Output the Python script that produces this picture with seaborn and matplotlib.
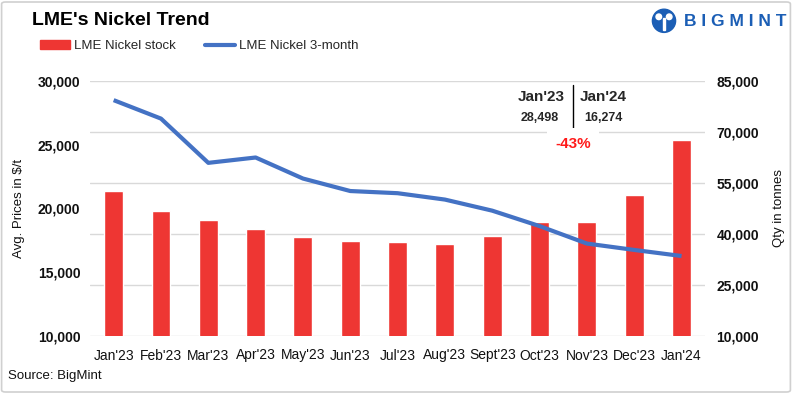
import numpy as np
import pandas as pd
import matplotlib
matplotlib.use("Agg")
import matplotlib.pyplot as plt
from matplotlib.patches import FancyBboxPatch, Ellipse, Rectangle
from matplotlib.lines import Line2D
from matplotlib.ticker import FuncFormatter, FixedLocator, FixedFormatter
import seaborn as sns

# ---- data ----
months = ["Jan'23", "Feb'23", "Mar'23", "Apr'23", "May'23", "Jun'23", "Jul'23",
          "Aug'23", "Sept'23", "Oct'23", "Nov'23", "Dec'23", "Jan'24"]
stock_qty = [52600, 46800, 44100, 41500, 39100, 37900, 37600,
             37100, 39400, 43500, 43500, 51500, 67600]
price_3m = [28498, 27050, 23580, 24000, 22350, 21370, 21200,
            20700, 19830, 18620, 17250, 16750, 16274]
left_ticks = [10000, 15000, 20000, 25000, 30000]
right_ticks = [10000, 25000, 40000, 55000, 70000, 85000]

sns.set_theme(style="white")
plt.rcParams['font.family'] = ['Liberation Sans', 'DejaVu Sans']

bar_color = "#EE3633"
line_color = "#4472C4"
grid_color = "#D9D9D9"

df = pd.DataFrame({"month": months, "qty": stock_qty, "price": price_3m,
                   "pos": np.arange(len(months))})

fig = plt.figure(figsize=(8, 4), dpi=100)
ax = fig.add_axes([0.1125, 0.16, 0.769, 0.6375])
ax2 = ax.twinx()

# bars on right (qty) axis
sns.barplot(data=df, x="month", y="qty", ax=ax2, color=bar_color, width=0.4,
            saturation=1, order=months)
ax2.set_ylim(10000, 85000)
ax2.set_yticks(right_ticks)
ax2.yaxis.grid(True, color=grid_color, linewidth=1)
ax2.set_axisbelow(True)

# line on left (price) axis, drawn above bars
sns.lineplot(data=df, x="pos", y="price", ax=ax, color=line_color, linewidth=3,
             solid_capstyle="butt")
ax.set_zorder(ax2.get_zorder() + 1)
ax.patch.set_visible(False)
ax.set_ylim(10000, 30000)
ax.set_yticks(left_ticks)

fmt = FuncFormatter(lambda v, p: f"{int(v):,}")
ax.yaxis.set_major_formatter(fmt)
ax2.yaxis.set_major_formatter(fmt)

for a in (ax, ax2):
    for s in a.spines.values():
        s.set_visible(False)
    a.tick_params(length=0)
    a.set_xlabel("")

ax2.tick_params(axis="x", labelbottom=False, bottom=False)

# x ticks (shared axis) set last
ax.set_xlim(-0.5, len(months) - 0.5)
ax.xaxis.set_major_locator(FixedLocator(np.arange(len(months))))
ax.xaxis.set_major_formatter(FixedFormatter(months))
ax.tick_params(axis="x", labelbottom=True, pad=9)

ax.tick_params(axis="y", pad=7)
ax2.tick_params(axis="y", pad=8)
for lab in ax.get_yticklabels() + ax2.get_yticklabels():
    lab.set_fontweight("bold")
    lab.set_fontsize(10)
    lab.set_color("#111111")
narrow = ['Liberation Sans Narrow', 'Liberation Sans', 'DejaVu Sans']
for lab in ax.get_xticklabels():
    lab.set_family(narrow)
    lab.set_fontsize(10)
    lab.set_color("#111111")

ax.set_ylabel("Avg. Prices in $/t", fontsize=9.5, color="#111111", labelpad=9)
ax2.set_ylabel("Qty in tonnes", fontsize=9.5, color="#111111", labelpad=10)

# title
fig.text(0.04, 0.948, "LME's Nickel Trend", fontsize=14, fontweight="bold",
         ha="left", va="center", color="#000000")

# legend
handles = [Rectangle((0, 0), 1, 1, color=bar_color),
           Line2D([0], [0], color=line_color, linewidth=3)]
fig.legend(handles, ["LME Nickel stock", "LME Nickel 3-month"], loc="center left",
           bbox_to_anchor=(0.05, 0.885), ncol=2, frameon=False, fontsize=9.5,
           handlelength=2.3, handleheight=0.6, columnspacing=2.2, handletextpad=0.3,
           borderaxespad=0, borderpad=0)

# annotation block
first, last = price_3m[0], price_3m[-1]
chg = (last - first) / first * 100
fig.text(0.677, 0.758, months[0], fontsize=11, fontweight="bold", ha="center", va="center")
fig.text(0.7545, 0.758, months[-1], fontsize=11, fontweight="bold", ha="center", va="center")
fig.text(0.674, 0.705, f"{first:,}", fontsize=9, fontweight="bold", ha="center", va="center")
fig.text(0.7545, 0.705, f"{last:,}", fontsize=9, fontweight="bold", ha="center", va="center")
fig.add_artist(Line2D([0.7165, 0.7165], [0.672, 0.787], color="#000000", linewidth=1,
                      transform=fig.transFigure))
fig.text(0.7165, 0.641, f"{chg:.0f}%", fontsize=11, fontweight="bold", ha="center",
         va="center", color="#FF1A1A",
         bbox=dict(facecolor="white", edgecolor="none", pad=6))

# source
fig.text(0.01, 0.06, "Source: BigMint", fontsize=9.5, family=narrow, ha="left",
         va="center", color="#111111")

# logo
logo_blue = "#1B5EB5"
fig.add_artist(Ellipse((0.83, 0.948), 0.029, 0.058, color=logo_blue,
                       transform=fig.transFigure))
fig.add_artist(Ellipse((0.8235, 0.958), 0.007, 0.014, color="white",
                       transform=fig.transFigure))
fig.add_artist(Ellipse((0.8365, 0.958), 0.007, 0.014, color="white",
                       transform=fig.transFigure))
fig.add_artist(Rectangle((0.8285, 0.925), 0.003, 0.03, color="white",
                         transform=fig.transFigure))
fig.text(0.855, 0.946, "B I G M I N T", fontsize=12.5, fontweight="bold",
         color=logo_blue, ha="left", va="center")

# border
fig.add_artist(FancyBboxPatch((0.002, 0.02), 0.986, 0.975,
                              boxstyle="round,pad=0,rounding_size=0.005",
                              facecolor="none", edgecolor="#D0D0D0", linewidth=1.2,
                              transform=fig.transFigure))

fig.savefig("out.png", dpi=100)
